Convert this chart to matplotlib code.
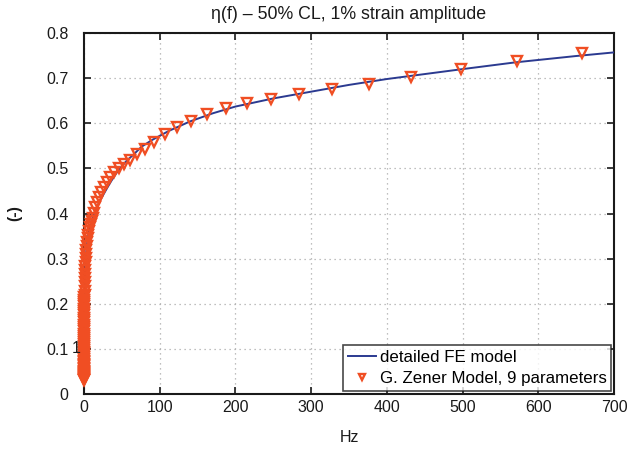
import matplotlib
matplotlib.use("Agg")
import matplotlib.pyplot as plt
from matplotlib.transforms import blended_transform_factory

# ---- data ----
fe_freq = [0.02, 0.03, 0.05, 0.1, 0.2, 0.4, 0.7, 1.0, 1.5, 2.0, 3.0, 4.0, 5.0, 7.5,
           10, 14, 20, 25, 30, 36, 43, 50, 57, 65, 76, 90, 112, 140, 170, 200,
           250, 300, 350, 400, 450, 500, 570, 650, 700]
fe_eta = [0.030, 0.037, 0.050, 0.090, 0.130, 0.180, 0.225, 0.245, 0.270, 0.290,
          0.315, 0.332, 0.345, 0.370, 0.385, 0.403, 0.425, 0.440, 0.455, 0.472,
          0.490, 0.505, 0.518, 0.530, 0.548, 0.563, 0.583, 0.604, 0.622, 0.637,
          0.655, 0.670, 0.685, 0.698, 0.709, 0.720, 0.735, 0.749, 0.757]

zener_freq = [657.7, 571.9, 497.3, 432.5, 376.1, 327.0, 284.4, 247.3, 215.0, 187.0,
              162.6, 141.4, 122.9, 106.9, 93.0, 80.8, 70.3, 61.1, 53.2, 46.2,
              40.2, 34.9, 30.4, 26.4, 23.0, 20.0, 17.4, 15.1, 13.1, 11.4,
              9.93, 8.63, 7.51, 6.53, 5.68, 4.94, 4.29, 3.73, 3.25, 2.82,
              2.46, 2.14, 1.86, 1.62, 1.40, 1.22, 1.06, 0.923, 0.803, 0.698,
              0.651, 0.607, 0.566, 0.528, 0.492, 0.459, 0.428, 0.399, 0.372, 0.347,
              0.324, 0.302, 0.282, 0.263, 0.245, 0.228, 0.213, 0.199, 0.185, 0.173,
              0.161, 0.150, 0.140, 0.131, 0.122, 0.114, 0.106, 0.0988, 0.0921, 0.0859,
              0.0801, 0.0747, 0.0697, 0.0650, 0.0606, 0.0565, 0.0527, 0.0491, 0.0458, 0.0427,
              0.0399, 0.0372, 0.0347, 0.0323, 0.0302, 0.0281, 0.0262, 0.0244]
zener_eta = [0.755, 0.738, 0.720, 0.703, 0.688, 0.676, 0.664, 0.654, 0.644, 0.633,
             0.620, 0.606, 0.592, 0.576, 0.559, 0.544, 0.531, 0.519, 0.509, 0.500,
             0.491, 0.481, 0.470, 0.459, 0.448, 0.437, 0.426, 0.414, 0.402, 0.391,
             0.384, 0.376, 0.369, 0.361, 0.353, 0.345, 0.337, 0.329, 0.320, 0.311,
             0.302, 0.293, 0.284, 0.275, 0.266, 0.257, 0.248, 0.239, 0.229, 0.219,
             0.214, 0.209, 0.204, 0.199, 0.194, 0.189, 0.184, 0.179, 0.174, 0.169,
             0.164, 0.159, 0.154, 0.149, 0.144, 0.139, 0.134, 0.129, 0.124, 0.120,
             0.115, 0.111, 0.106, 0.102, 0.098, 0.094, 0.090, 0.086, 0.082, 0.078,
             0.074, 0.071, 0.067, 0.064, 0.061, 0.058, 0.055, 0.052, 0.049, 0.047,
             0.044, 0.042, 0.040, 0.038, 0.036, 0.034, 0.032, 0.031]

x_ticks = [0, 100, 200, 300, 400, 500, 600, 700]
y_ticks = [0, 0.1, 0.2, 0.3, 0.4, 0.5, 0.6, 0.7, 0.8]
y_tick_labels = ["0", "0.1", "0.2", "0.3", "0.4", "0.5", "0.6", "0.7", "0.8"]

title = "\u03b7(f) \u2013 50% CL, 1% strain amplitude"
labels = ["detailed FE model", "G. Zener Model, 9 parameters"]

# ---- style ----
plt.rcParams['font.family'] = ['Liberation Sans', 'DejaVu Sans']

fig = plt.figure(figsize=(6.29, 4.5), dpi=100)
ax = fig.add_axes([84 / 629, 56 / 450, 530 / 629, 361 / 450])

line_color = '#2b3a90'
marker_color = '#f04e23'
text_color = '#1a1a1a'

ax.plot(fe_freq, fe_eta, color=line_color, lw=1.4, label=labels[0], zorder=3)
ax.plot(zener_freq, zener_eta, linestyle='none', marker='v', markersize=7,
        markerfacecolor='none', markeredgecolor=marker_color, markeredgewidth=1.7,
        label=labels[1], zorder=4, clip_on=False)

ax.set_xlim(0, 700)
ax.set_ylim(0, 0.8)
ax.set_xticks(x_ticks)
ax.set_yticks(y_ticks)
ax.set_yticklabels(y_tick_labels)
ax.tick_params(direction='in', length=5, width=1.2, top=True, right=True,
               labelsize=11.5, colors=text_color)
ax.tick_params(axis='x', pad=4)
ax.tick_params(axis='y', pad=11)
for sp in ax.spines.values():
    sp.set_linewidth(1.5)
    sp.set_color(text_color)
ax.grid(True, linestyle=(0, (1, 3)), color='#aaaaaa', linewidth=0.9)
ax.set_axisbelow(True)

ax.set_title(title, fontsize=12.8, color=text_color, pad=10)
ax.set_xlabel("Hz", fontsize=11.5, color=text_color, labelpad=11)
ax.set_ylabel("(-)", fontsize=11.5, color=text_color, fontweight='bold')
ax.yaxis.set_label_coords(-0.117, 0.5)

# stray "1" next to the 0.1 tick label as in the original
tr = blended_transform_factory(fig.transFigure, ax.transData)
ax.text(72 / 629, 0.1, "1", transform=tr, fontsize=11.5, color=text_color,
        ha='left', va='center', zorder=6)

leg = ax.legend(loc='lower right', fontsize=12.2, frameon=True, fancybox=False,
                edgecolor=text_color, handlelength=1.65, handletextpad=0.2,
                borderaxespad=0.15, borderpad=0.3, labelspacing=0.4, markerscale=0.6)
leg.get_frame().set_linewidth(1.2)
leg.set_zorder(5)

fig.savefig("out.png", dpi=100)
